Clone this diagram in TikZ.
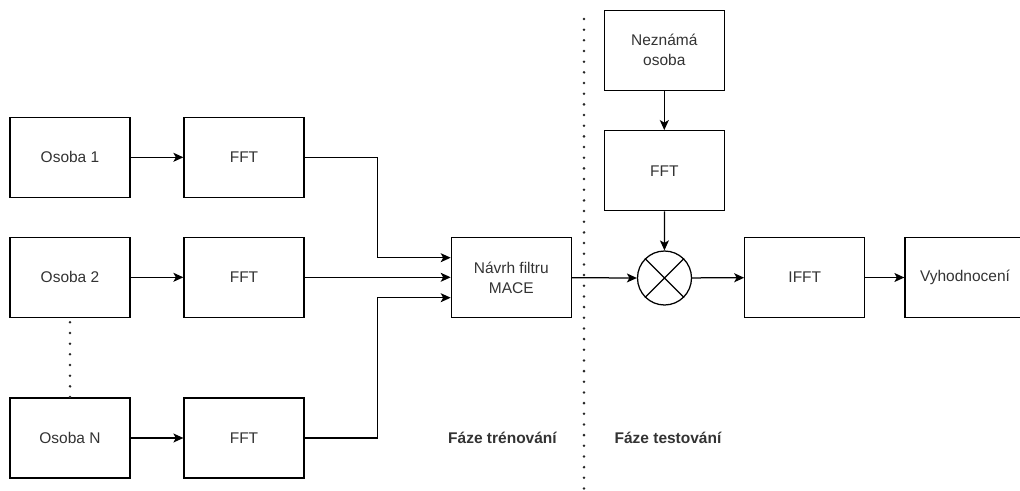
\documentclass[tikz,border=0pt]{standalone}
\usepackage{fontspec}
\setmainfont{Liberation Sans}
\usetikzlibrary{arrows.meta}
\definecolor{txt}{RGB}{51,51,51}
\begin{document}
\begin{tikzpicture}[x=1pt,y=-1pt,
 blk/.style={draw, line width=1.25pt, minimum width=120pt, minimum height=80pt, inner sep=0pt, text=txt, font=\fontsize{15.5}{20}\selectfont, align=center},
 arr/.style={line width=1.25pt, -{Stealth[length=10pt,width=9pt,inset=2.5pt]}},
 ln/.style={line width=1.25pt},
 dots/.style={line width=2.8pt, dash pattern=on 0pt off 10.67pt, line cap=round, black!85},
 lbl/.style={font=\bfseries\fontsize{15.5}{20}\selectfont, text=txt}]
\useasboundingbox (0,0) rectangle (1020,490);
% training
\node[blk] (o1) at (70,157.3) {Osoba 1};
\node[blk] (f1) at (244,157.3) {FFT};
\node[blk] (o2) at (70,277.3) {Osoba 2};
\node[blk] (f2) at (244,277.3) {FFT};
\node[blk] (oN) at (70,438) {Osoba N};
\node[blk] (fN) at (244,438) {FFT};
\node[blk] (mace) at (511.3,277.7) {Návrh filtru\\MACE};
% testing
\node[blk] (nez) at (664.3,50.3) {Neznámá\\osoba};
\node[blk] (ft) at (664.3,170.7) {FFT};
\node[draw, circle, line width=1.25pt, minimum size=54pt, inner sep=0pt] (mul) at (664.5,278) {};
\draw[ln] (mul.45) -- (mul.225) (mul.135) -- (mul.315);
\node[blk] (ifft) at (804.8,277.5) {IFFT};
\node[blk] (vyh) at (965,277.5) {Vyhodnocení};
% labels
\node[lbl] (lt) at (502.5,437.5) {Fáze trénování};
\node[lbl] (ls) at (668,437.5) {Fáze testování};
% divider
\coordinate (dtop) at (584,19);
\coordinate (dbot) at (584,492);
\draw[dots] (dtop) -- (dbot);
\draw[dots] ([yshift=-4.4pt]o2.south) -- (oN.north);
% connectors
\coordinate (mx) at (377.7,0);
\draw[arr] (o1) -- (f1);
\draw[arr] (o2) -- (f2);
\draw[arr] (oN) -- (fN);
\draw[arr] (f1.east) -- (f1.east -| mx) |- ([yshift=20pt]mace.west);
\draw[arr] (f2.east) -- (f2.east -| mace.west);
\draw[arr] (fN.east) -- (fN.east -| mx) |- ([yshift=-20pt]mace.west);
\draw[arr] (mace.east) -- (mul.west);
\draw[arr] (nez) -- (ft);
\draw[arr] (ft) -- (mul);
\draw[arr] (mul) -- (ifft);
\draw[arr] (ifft) -- (vyh);
\end{tikzpicture}
\end{document}
